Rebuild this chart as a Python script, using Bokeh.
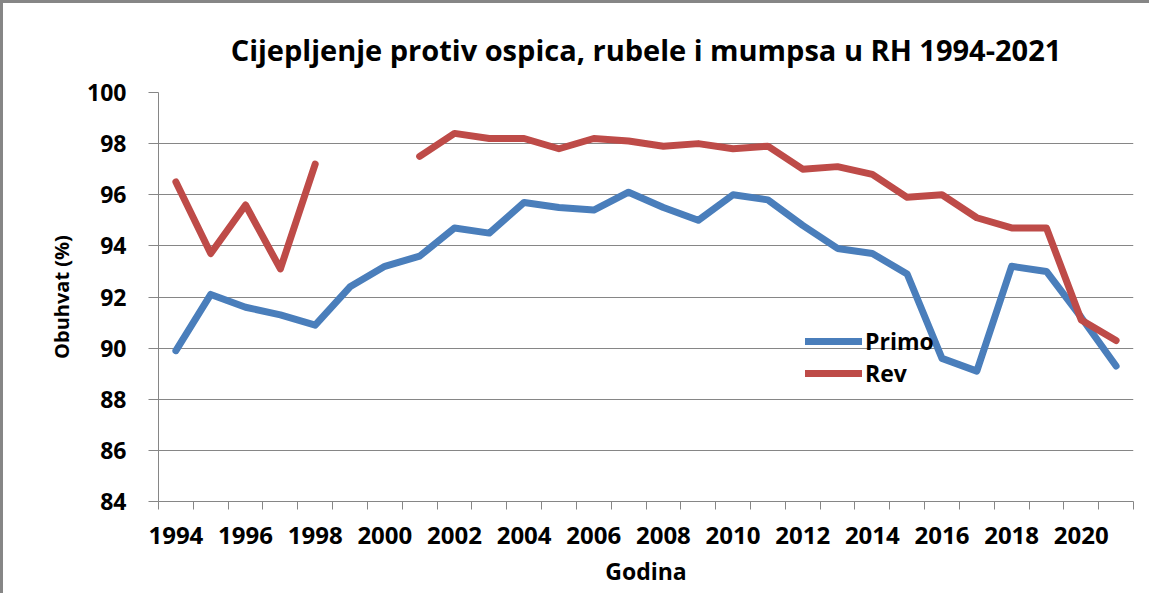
from bokeh.plotting import figure
from bokeh.models import Range1d, FixedTicker, Legend, LegendItem
from bokeh.embed import file_html
from bokeh.resources import INLINE

nan = float("nan")

years = [1994, 1995, 1996, 1997, 1998, 1999, 2000, 2001, 2002, 2003, 2004, 2005, 2006, 2007,
         2008, 2009, 2010, 2011, 2012, 2013, 2014, 2015, 2016, 2017, 2018, 2019, 2020, 2021]
primo = [89.9, 92.1, 91.6, 91.3, 90.9, 92.4, 93.2, 93.6, 94.7, 94.5, 95.7, 95.5, 95.4, 96.1,
         95.5, 95.0, 96.0, 95.8, 94.8, 93.9, 93.7, 92.9, 89.6, 89.1, 93.2, 93.0, 91.2, 89.3]
rev = [96.5, 93.7, 95.6, 93.1, 97.2, nan, nan, 97.5, 98.4, 98.2, 98.2, 97.8, 98.2, 98.1,
       97.9, 98.0, 97.8, 97.9, 97.0, 97.1, 96.8, 95.9, 96.0, 95.1, 94.7, 94.7, 91.1, 90.3]
x_labels = [1994, 1996, 1998, 2000, 2002, 2004, 2006, 2008, 2010, 2012, 2014, 2016, 2018, 2020]
y_ticks = [84, 86, 88, 90, 92, 94, 96, 98, 100]

title_text = "Cijepljenje protiv ospica, rubele i mumpsa u RH 1994-2021"
FONT = "Open Sans"
GRAY = "#868686"
BLUE = "#4a7ebb"
RED = "#be4b48"

p = figure(width=1149, height=593, output_backend="svg", toolbar_location=None,
           x_range=Range1d(years[0] - 0.5, years[-1] + 0.5), y_range=Range1d(84, 100),
           min_border_left=155, min_border_right=19, min_border_top=88, min_border_bottom=95)
p.styles = {"border-top": "3px solid #868686", "border-left": "3px solid #868686"}

p.title.text = title_text
p.title.align = "center"
p.title.text_font = FONT
p.title.text_font_size = "29px"
p.title.text_font_style = "bold"
p.title.text_color = "black"
p.title.standoff = 48

p.outline_line_color = None
p.xgrid.grid_line_color = None
p.ygrid.grid_line_color = GRAY
p.ygrid.grid_line_width = 1

# x axis: labels on even years, tick marks between categories
xt = FixedTicker(ticks=x_labels, minor_ticks=[y - 0.5 for y in years] + [years[-1] + 0.5])
p.xaxis.ticker = xt
p.xaxis.major_tick_in = 0
p.xaxis.major_tick_out = 0
p.xaxis.minor_tick_in = 0
p.xaxis.minor_tick_out = 8
p.xaxis.minor_tick_line_color = GRAY
p.xaxis.axis_line_color = GRAY
p.xaxis.major_label_text_font = FONT
p.xaxis.major_label_text_font_style = "bold"
p.xaxis.major_label_text_font_size = "24px"
p.xaxis.major_label_text_color = "black"
p.xaxis.major_label_standoff = 17
p.xaxis.axis_label = "Godina"
p.xaxis.axis_label_text_font = FONT
p.xaxis.axis_label_text_font_style = "bold"
p.xaxis.axis_label_text_font_size = "23px"
p.xaxis.axis_label_text_color = "black"
p.xaxis.axis_label_standoff = 8

p.yaxis.ticker = FixedTicker(ticks=y_ticks)
p.yaxis.minor_tick_line_color = None
p.yaxis.major_tick_in = 0
p.yaxis.major_tick_out = 10
p.yaxis.major_tick_line_color = GRAY
p.yaxis.axis_line_color = GRAY
p.yaxis.major_label_text_font = FONT
p.yaxis.major_label_text_font_style = "bold"
p.yaxis.major_label_text_font_size = "23px"
p.yaxis.major_label_text_color = "black"
p.yaxis.major_label_standoff = 22
p.yaxis.axis_label = "Obuhvat (%)"
p.yaxis.axis_label_text_font = FONT
p.yaxis.axis_label_text_font_style = "bold"
p.yaxis.axis_label_text_font_size = "20px"
p.yaxis.axis_label_text_color = "black"
p.yaxis.axis_label_standoff = 9

r1 = p.line(years, primo, line_color=BLUE, line_width=7, line_cap="round", line_join="round")
r2 = p.line(years, rev, line_color=RED, line_width=7, line_cap="round", line_join="round")

legend = Legend(items=[LegendItem(label="Primo", renderers=[r1]),
                       LegendItem(label="Rev", renderers=[r2])],
                location=(647, 112))
legend.background_fill_alpha = 0
legend.border_line_color = None
legend.padding = 0
legend.margin = 0
legend.spacing = -4
legend.glyph_width = 57
legend.glyph_height = 28
legend.label_height = 28
legend.label_standoff = 3
legend.label_text_font = FONT
legend.label_text_font_style = "bold"
legend.label_text_font_size = "23px"
legend.label_text_color = "black"
p.add_layout(legend, "center")

open("out.html", "w").write(file_html(p, INLINE))
